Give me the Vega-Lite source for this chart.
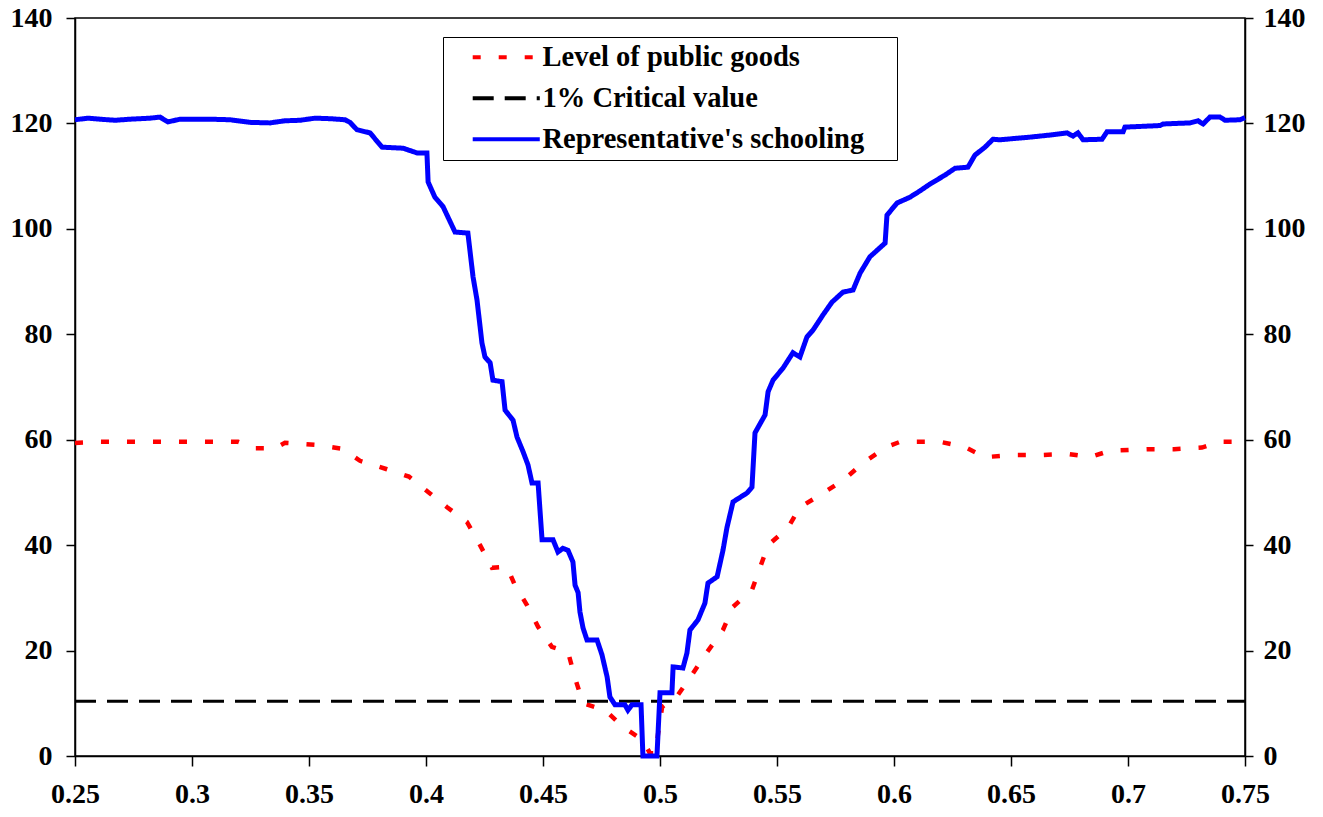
{
  "$schema": "https://vega.github.io/schema/vega-lite/v6.json",
  "description": "Level of public goods and representative's schooling against the 1% critical value.",
  "width": 1170,
  "height": 738,
  "autosize": "none",
  "padding": {"left": 75, "top": 18, "right": 78, "bottom": 61},
  "background": "white",
  "datasets": {
    "schooling": [
      {"p": 0.25, "value": 120.7}, {"p": 0.2556, "value": 121.0}, {"p": 0.2607, "value": 120.8},
      {"p": 0.2671, "value": 120.6}, {"p": 0.2735, "value": 120.8}, {"p": 0.2821, "value": 121.0},
      {"p": 0.2863, "value": 121.2}, {"p": 0.2897, "value": 120.3}, {"p": 0.2949, "value": 120.8},
      {"p": 0.3077, "value": 120.8}, {"p": 0.3162, "value": 120.7}, {"p": 0.3248, "value": 120.2},
      {"p": 0.3333, "value": 120.1}, {"p": 0.3397, "value": 120.5}, {"p": 0.3462, "value": 120.6},
      {"p": 0.3526, "value": 121.0}, {"p": 0.359, "value": 120.9}, {"p": 0.3654, "value": 120.7},
      {"p": 0.3675, "value": 120.2}, {"p": 0.3705, "value": 118.8}, {"p": 0.3761, "value": 118.2},
      {"p": 0.3812, "value": 115.5}, {"p": 0.3902, "value": 115.3}, {"p": 0.3962, "value": 114.4},
      {"p": 0.4004, "value": 114.4}, {"p": 0.4009, "value": 108.9}, {"p": 0.4038, "value": 106.0},
      {"p": 0.4073, "value": 104.2}, {"p": 0.409, "value": 102.6}, {"p": 0.4124, "value": 99.4},
      {"p": 0.4179, "value": 99.2}, {"p": 0.4201, "value": 90.9}, {"p": 0.4218, "value": 86.5},
      {"p": 0.4239, "value": 78.4}, {"p": 0.4252, "value": 75.7}, {"p": 0.4274, "value": 74.6},
      {"p": 0.4286, "value": 71.3}, {"p": 0.4325, "value": 71.0}, {"p": 0.4338, "value": 65.6},
      {"p": 0.4372, "value": 63.7}, {"p": 0.4389, "value": 60.5}, {"p": 0.4415, "value": 57.7},
      {"p": 0.4436, "value": 55.2}, {"p": 0.4453, "value": 51.8}, {"p": 0.4479, "value": 51.8},
      {"p": 0.4496, "value": 41.0}, {"p": 0.4543, "value": 41.0}, {"p": 0.4564, "value": 38.7},
      {"p": 0.4585, "value": 39.4}, {"p": 0.4607, "value": 39.0}, {"p": 0.4628, "value": 36.8},
      {"p": 0.4637, "value": 32.4}, {"p": 0.465, "value": 31.0}, {"p": 0.4658, "value": 27.3},
      {"p": 0.4671, "value": 24.3}, {"p": 0.4688, "value": 22.0}, {"p": 0.4731, "value": 22.0},
      {"p": 0.4752, "value": 19.2}, {"p": 0.4774, "value": 15.0}, {"p": 0.4786, "value": 11.2},
      {"p": 0.4808, "value": 9.7}, {"p": 0.485, "value": 9.7}, {"p": 0.4863, "value": 8.7},
      {"p": 0.488, "value": 9.7}, {"p": 0.4919, "value": 9.7}, {"p": 0.4927, "value": 0},
      {"p": 0.4987, "value": 0}, {"p": 0.5, "value": 12.0}, {"p": 0.5051, "value": 12.0},
      {"p": 0.5056, "value": 16.9}, {"p": 0.5098, "value": 16.7}, {"p": 0.5115, "value": 19.5},
      {"p": 0.5128, "value": 23.9}, {"p": 0.5162, "value": 25.8}, {"p": 0.5192, "value": 29.0},
      {"p": 0.5205, "value": 32.8}, {"p": 0.5244, "value": 34.0}, {"p": 0.5269, "value": 39.0},
      {"p": 0.5286, "value": 43.3}, {"p": 0.5312, "value": 48.2}, {"p": 0.5372, "value": 49.9},
      {"p": 0.5393, "value": 51.0}, {"p": 0.5406, "value": 61.3}, {"p": 0.5449, "value": 64.7},
      {"p": 0.5462, "value": 69.1}, {"p": 0.5483, "value": 71.3}, {"p": 0.5526, "value": 73.6},
      {"p": 0.5568, "value": 76.5}, {"p": 0.5598, "value": 75.7}, {"p": 0.5628, "value": 79.5},
      {"p": 0.5654, "value": 80.8}, {"p": 0.5697, "value": 83.7}, {"p": 0.5735, "value": 86.1},
      {"p": 0.5782, "value": 88.0}, {"p": 0.5825, "value": 88.4}, {"p": 0.5855, "value": 91.6},
      {"p": 0.5897, "value": 94.7}, {"p": 0.5962, "value": 97.3}, {"p": 0.597, "value": 102.6},
      {"p": 0.6013, "value": 104.9}, {"p": 0.6068, "value": 106.0}, {"p": 0.6111, "value": 107.2},
      {"p": 0.6154, "value": 108.5}, {"p": 0.6218, "value": 110.2}, {"p": 0.6261, "value": 111.5},
      {"p": 0.6316, "value": 111.7}, {"p": 0.6346, "value": 114.0}, {"p": 0.6389, "value": 115.5},
      {"p": 0.6423, "value": 117.0}, {"p": 0.6453, "value": 116.9}, {"p": 0.6581, "value": 117.4},
      {"p": 0.6667, "value": 117.8}, {"p": 0.6739, "value": 118.2}, {"p": 0.6765, "value": 117.6},
      {"p": 0.6786, "value": 118.2}, {"p": 0.6808, "value": 116.9}, {"p": 0.6889, "value": 117.0},
      {"p": 0.691, "value": 118.4}, {"p": 0.6979, "value": 118.4}, {"p": 0.6987, "value": 119.3},
      {"p": 0.7137, "value": 119.6}, {"p": 0.715, "value": 119.9}, {"p": 0.7265, "value": 120.1},
      {"p": 0.7299, "value": 120.5}, {"p": 0.7321, "value": 119.9}, {"p": 0.735, "value": 121.2},
      {"p": 0.7393, "value": 121.2}, {"p": 0.7415, "value": 120.6}, {"p": 0.7479, "value": 120.7},
      {"p": 0.75, "value": 121.1}
    ],
    "goods": [
      {"p": 0.25, "value": 59.4}, {"p": 0.2607, "value": 59.6}, {"p": 0.2821, "value": 59.6},
      {"p": 0.3197, "value": 59.6}, {"p": 0.3269, "value": 58.4}, {"p": 0.3355, "value": 58.4},
      {"p": 0.3397, "value": 59.4}, {"p": 0.3534, "value": 59.0}, {"p": 0.3641, "value": 58.3},
      {"p": 0.3718, "value": 56.0}, {"p": 0.3833, "value": 54.4}, {"p": 0.3927, "value": 53.0},
      {"p": 0.4009, "value": 50.1}, {"p": 0.409, "value": 47.2}, {"p": 0.4175, "value": 44.4},
      {"p": 0.4231, "value": 40.0}, {"p": 0.4282, "value": 35.7}, {"p": 0.4346, "value": 35.9},
      {"p": 0.438, "value": 32.4}, {"p": 0.4432, "value": 28.6}, {"p": 0.4479, "value": 24.5},
      {"p": 0.4538, "value": 20.7}, {"p": 0.4607, "value": 19.7}, {"p": 0.4637, "value": 14.8},
      {"p": 0.4671, "value": 10.0}, {"p": 0.4765, "value": 8.7}, {"p": 0.4842, "value": 5.5},
      {"p": 0.4927, "value": 3.0}, {"p": 0.4957, "value": 0.5}, {"p": 0.4983, "value": 0.5},
      {"p": 0.4991, "value": 4.0}, {"p": 0.5009, "value": 9.3}, {"p": 0.5077, "value": 11.6},
      {"p": 0.5141, "value": 15.7}, {"p": 0.5201, "value": 19.7}, {"p": 0.5269, "value": 23.9},
      {"p": 0.5312, "value": 28.3}, {"p": 0.5393, "value": 31.5}, {"p": 0.5427, "value": 35.7},
      {"p": 0.5462, "value": 40.0}, {"p": 0.5547, "value": 43.3}, {"p": 0.5598, "value": 47.2},
      {"p": 0.5684, "value": 49.5}, {"p": 0.5786, "value": 52.4}, {"p": 0.5868, "value": 55.6},
      {"p": 0.5966, "value": 58.6}, {"p": 0.6026, "value": 59.6}, {"p": 0.6197, "value": 59.6},
      {"p": 0.6303, "value": 58.6}, {"p": 0.6389, "value": 56.7}, {"p": 0.6517, "value": 57.1},
      {"p": 0.6632, "value": 57.1}, {"p": 0.6744, "value": 57.3}, {"p": 0.6838, "value": 56.7},
      {"p": 0.6923, "value": 57.9}, {"p": 0.7081, "value": 58.2}, {"p": 0.7197, "value": 58.2},
      {"p": 0.7316, "value": 58.5}, {"p": 0.7393, "value": 59.6}, {"p": 0.75, "value": 59.6}
    ],
    "critical": [
      {"p": 0.25, "value": 10.4}, {"p": 0.75, "value": 10.4}
    ]
  },
  "encoding": {
    "x": {
      "field": "p",
      "type": "quantitative",
      "scale": {"domain": [0.25, 0.75], "nice": false, "zero": false},
      "axis": {
        "title": null,
        "values": [0.25, 0.3, 0.35, 0.4, 0.45, 0.5, 0.55, 0.6, 0.65, 0.7, 0.75],
        "format": "~g",
        "tickSize": 10,
        "labelPadding": 14,
        "labelFlush": false,
        "labelOverlap": false
      }
    },
    "color": {
      "field": "series",
      "type": "nominal",
      "scale": {
        "domain": ["Level of public goods", "1% Critical value", "Representative's schooling"],
        "range": ["#ff0000", "#000000", "#0000ff"]
      },
      "legend": {"orient": "none", "legendX": 368, "legendY": 19, "title": "\u00a0"}
    },
    "strokeDash": {
      "field": "series",
      "type": "nominal",
      "scale": {
        "domain": ["Level of public goods", "1% Critical value", "Representative's schooling"],
        "range": [[8, 18], [21, 11], [1, 0]]
      },
      "legend": {"orient": "none", "legendX": 368, "legendY": 19, "title": "\u00a0"}
    }
  },
  "layer": [
    {
      "data": {"name": "goods"},
      "transform": [{"calculate": "'Level of public goods'", "as": "series"}],
      "mark": {"type": "line", "strokeWidth": 4.5, "strokeCap": "butt"},
      "encoding": {
        "y": {
          "field": "value",
          "type": "quantitative",
          "scale": {"domain": [0, 140], "nice": false},
          "axis": {
            "title": null,
            "orient": "left",
            "values": [0, 20, 40, 60, 80, 100, 120, 140],
            "tickSize": 9,
            "labelPadding": 14
          }
        }
      }
    },
    {
      "data": {"name": "critical"},
      "transform": [{"calculate": "'1% Critical value'", "as": "series"}],
      "mark": {"type": "line", "strokeWidth": 3, "strokeCap": "butt"},
      "encoding": {
        "y": {
          "field": "value",
          "type": "quantitative",
          "scale": {"domain": [0, 140], "nice": false},
          "axis": {
            "title": null,
            "orient": "right",
            "values": [0, 20, 40, 60, 80, 100, 120, 140],
            "tickSize": 8,
            "labelPadding": 10
          }
        }
      }
    },
    {
      "data": {"name": "schooling"},
      "transform": [{"calculate": "'Representative\\'s schooling'", "as": "series"}],
      "mark": {"type": "line", "strokeWidth": 5, "strokeJoin": "miter"},
      "encoding": {
        "y": {
          "field": "value",
          "type": "quantitative",
          "scale": {"domain": [0, 140], "nice": false},
          "axis": null
        }
      }
    }
  ],
  "resolve": {"axis": {"y": "independent"}},
  "config": {
    "view": {"stroke": "#000000", "strokeWidth": 1.5},
    "axis": {
      "grid": false,
      "domainColor": "#000000",
      "domainWidth": 1.5,
      "tickColor": "#000000",
      "tickWidth": 1.5,
      "labelFont": "Liberation Serif",
      "labelFontWeight": "bold",
      "labelFontSize": 28,
      "labelColor": "#000000"
    },
    "legend": {
      "symbolType": "M-3,0H3",
      "symbolSize": 500,
      "symbolOffset": 43,
      "symbolStrokeWidth": 4,
      "labelOffset": 22,
      "rowPadding": 12,
      "padding": 6,
      "strokeColor": "#000000",
      "fillColor": "#ffffff",
      "labelFont": "Liberation Serif",
      "labelFontWeight": "bold",
      "labelFontSize": 28.5,
      "labelColor": "#000000",
      "labelLimit": 600,
      "titleOrient": "right",
      "titlePadding": 27,
      "titleFontSize": 10,
      "titleFont": "Liberation Serif"
    }
  }
}
